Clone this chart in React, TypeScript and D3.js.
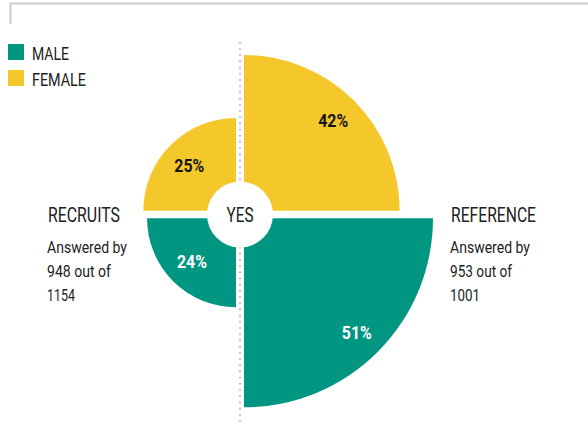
import React from 'react';
import * as d3 from 'd3';

const W = 588;
const H = 423;

const genders = ['MALE', 'FEMALE'];
const genderColors = ['#009682', '#F4C72A'];
const groups = ['RECRUITS', 'REFERENCE'];
const maleValues = [24, 51];
const femaleValues = [25, 42];
const answeredLines = [
  ['Answered by', '948 out of', '1154'],
  ['Answered by', '953 out of', '1001'],
];
const centerLabel = 'YES';

const FONT = 'Roboto, "Open Sans", "DejaVu Sans", sans-serif';

export default function App() {
  const cx = 240;
  const cy = 214.5;
  const gapX = 4;
  const gapY = 3.8;
  const r = d3.scaleLinear().domain([0, 51]).range([0, 189]);

  type Cell = { value: number; side: number; vert: number; color: string; textColor: string };
  const cells: Cell[] = [];
  groups.forEach((g, gi) => {
    const side = gi === 0 ? -1 : 1;
    cells.push({ value: femaleValues[gi], side, vert: -1, color: genderColors[1], textColor: '#141414' });
    cells.push({ value: maleValues[gi], side, vert: 1, color: genderColors[0], textColor: '#ffffff' });
  });

  const angleFor = (side: number, vert: number): [number, number] => {
    if (side > 0 && vert < 0) return [0, Math.PI / 2];
    if (side > 0 && vert > 0) return [Math.PI / 2, Math.PI];
    if (side < 0 && vert > 0) return [Math.PI, (3 * Math.PI) / 2];
    return [-Math.PI / 2, 0];
  };

  const arc = d3.arc<any>();

  const pctWidth = 30;

  return (
    <svg width={W} height={H} style={{ position: 'absolute', left: 0, top: 0, background: '#fff' }}>
      {/* frame */}
      <path d={`M10.5,24 V3.5 H${W}`} fill="none" stroke="#d6d6d6" strokeWidth={2.5} />

      {/* legend */}
      {genders.map((g, i) => (
        <g key={g}>
          <rect x={8} y={44 + i * 26} width={16} height={16} fill={genderColors[i]} />
          <text
            x={32}
            y={60 + i * 26}
            fontFamily={FONT}
            fontSize={19}
            fill="#222"
            textLength={i === 0 ? 37 : 54}
            lengthAdjust="spacingAndGlyphs"
          >
            {g}
          </text>
        </g>
      ))}

      {/* dotted axis */}
      <line x1={cx} x2={cx} y1={42} y2={H} stroke="#a8a8a8" strokeWidth={1.6} strokeDasharray="1.6 4.6" />

      {/* quadrants */}
      {cells.map((c, i) => {
        const [a0, a1] = angleFor(c.side, c.vert);
        const rr = r(c.value);
        const ox = cx + c.side * gapX;
        const oy = cy + c.vert * gapY;
        const d = arc({ innerRadius: 0, outerRadius: rr, startAngle: a0, endAngle: a1 }) as string;
        const mid = (a0 + a1) / 2;
        const dist = rr - 28;
        const lx = ox + Math.sin(mid) * dist;
        const ly = oy - Math.cos(mid) * dist;
        return (
          <g key={i}>
            <path d={d} transform={`translate(${ox},${oy})`} fill={c.color} />
            <text
              x={lx - 1}
              y={ly + 7}
              textAnchor="middle"
              fontFamily={FONT}
              fontWeight={700}
              fontSize={19}
              fill={c.textColor}
              textLength={pctWidth}
              lengthAdjust="spacingAndGlyphs"
            >
              {`${c.value}%`}
            </text>
          </g>
        );
      })}

      {/* center */}
      <circle cx={cx} cy={cy} r={33} fill="#fff" />
      <text
        x={cx}
        y={cy + 7.5}
        textAnchor="middle"
        fontFamily={FONT}
        fontSize={21}
        fill="#222"
        textLength={27}
        lengthAdjust="spacingAndGlyphs"
      >
        {centerLabel}
      </text>

      {/* group labels */}
      {groups.map((g, gi) => {
        const x = gi === 0 ? 48 : 451;
        const lineWidths = gi === 0 ? [80, 64, 28] : [80, 62, 30];
        return (
          <g key={g}>
            <text
              x={x}
              y={222}
              fontFamily={FONT}
              fontSize={21}
              fill="#222"
              textLength={gi === 0 ? 72 : 85}
              lengthAdjust="spacingAndGlyphs"
            >
              {g}
            </text>
            {answeredLines[gi].map((line, li) => (
              <text
                key={li}
                x={x - 1}
                y={253 + li * 24}
                fontFamily={FONT}
                fontSize={17}
                fill="#222"
                textLength={lineWidths[li]}
                lengthAdjust="spacingAndGlyphs"
              >
                {line}
              </text>
            ))}
          </g>
        );
      })}
    </svg>
  );
}
